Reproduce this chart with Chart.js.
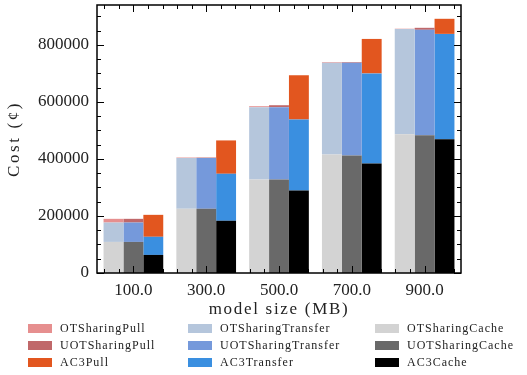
<!DOCTYPE html>
<html>
<head>
<meta charset="utf-8">
<script src="https://cdn.jsdelivr.net/npm/chart.js@4.4.0/dist/chart.umd.min.js"></script>
<style>
  html, body { margin: 0; padding: 0; background: #fff; }
  #wrap { position: relative; width: 527px; height: 375px; overflow: hidden; }
  #legend { position: absolute; left: 0; top: 0; width: 527px; height: 375px; pointer-events: none; }
  .item { position: absolute; font-family: 'Liberation Serif', serif; font-size: 12px; letter-spacing: 1px; line-height: 14px; color: #222; white-space: nowrap; }
  .box { position: absolute; width: 24px; height: 9px; }
</style>
</head>
<body>
<div id="wrap">
  <canvas id="costChart" width="527" height="375"></canvas>
  <div id="legend"></div>
</div>
<script>
const modelSizes = ['100.0', '300.0', '500.0', '700.0', '900.0'];

// segment values (cache at bottom, then transfer, then pull)
const otCache = [109000, 225500, 327700, 415800, 486300];
const otTransfer = [68000, 177500, 253800, 321800, 369700];
const otPull = [13000, 2000, 3500, 2400, 1000];

const uotCache = [109000, 225500, 327700, 412300, 482800];
const uotTransfer = [68000, 177500, 253800, 325300, 370200];
const uotPull = [13000, 2000, 7000, 2400, 7000];

const ac3Cache = [63400, 183000, 289000, 384000, 468700];
const ac3Transfer = [63600, 165000, 249000, 316000, 370000];
const ac3Pull = [77000, 117000, 156000, 121000, 52900];

const yTicks = [0, 200000, 400000, 600000, 800000];

const serif = "'Liberation Serif', serif";

function ds(label, data, color, stack) {
  return { label: label, data: data, backgroundColor: color, stack: stack, borderWidth: 0 };
}

const datasets = [
  ds('OTSharingCache', otCache, '#d3d3d3', 'OT'),
  ds('OTSharingTransfer', otTransfer, '#b5c6dc', 'OT'),
  ds('OTSharingPull', otPull, '#e68f8f', 'OT'),
  ds('UOTSharingCache', uotCache, '#696969', 'UOT'),
  ds('UOTSharingTransfer', uotTransfer, '#7599db', 'UOT'),
  ds('UOTSharingPull', uotPull, '#c0686a', 'UOT'),
  ds('AC3Cache', ac3Cache, '#000000', 'AC3'),
  ds('AC3Transfer', ac3Transfer, '#3a8fe0', 'AC3'),
  ds('AC3Pull', ac3Pull, '#e2561f', 'AC3'),
];

// inward ticks on all four sides plus the frame
const frameTicks = {
  id: 'frameTicks',
  afterDatasetsDraw(chart) {
    const { ctx, chartArea: a, scales: { x, y } } = chart;
    ctx.save();
    ctx.strokeStyle = '#000';
    ctx.lineWidth = 1;
    ctx.beginPath();
    for (let v = 0; v <= y.max; v += 50000) {
      const py = Math.round(y.getPixelForValue(v)) + 0.5;
      const len = v % 200000 === 0 ? 7 : 4;
      ctx.moveTo(a.left, py); ctx.lineTo(a.left + len, py);
      ctx.moveTo(a.right, py); ctx.lineTo(a.right - len, py);
    }
    for (let k = -3; k <= 23; k++) {
      const px = Math.round(x.getPixelForValue(k / 5)) + 0.5;
      if (px <= a.left + 1 || px >= a.right - 1) continue;
      const len = k % 5 === 0 ? 7 : 4;
      ctx.moveTo(px, a.bottom); ctx.lineTo(px, a.bottom - len);
      ctx.moveTo(px, a.top); ctx.lineTo(px, a.top + len);
    }
    ctx.stroke();
    ctx.lineWidth = 1.5;
    ctx.strokeRect(a.left, a.top, a.right - a.left, a.bottom - a.top);
    ctx.restore();
  }
};

const costChart = new Chart(document.getElementById('costChart').getContext('2d'), {
  type: 'bar',
  data: { labels: modelSizes, datasets: datasets },
  options: {
    responsive: false,
    animation: false,
    devicePixelRatio: 1,
    layout: { padding: { left: 0, right: 66, top: 5, bottom: 52 } },
    datasets: { bar: { barPercentage: 1, categoryPercentage: 0.82 } },
    plugins: { legend: { display: false }, tooltip: { enabled: false } },
    scales: {
      x: {
        stacked: true,
        grid: { display: false, drawTicks: false },
        border: { display: false },
        ticks: { color: '#222', font: { family: serif, size: 17 }, padding: 7, maxRotation: 0 },
        title: { display: true, text: 'model size (MB)', color: '#222', font: { family: serif, size: 17 }, padding: { top: 0, bottom: 3 } },
        afterFit: (s) => { s.height = 50; s.paddingLeft = 0; s.paddingRight = 0; }
      },
      y: {
        stacked: true,
        min: 0,
        max: 940000,
        grid: { display: false, drawTicks: false },
        border: { display: false },
        afterBuildTicks: (s) => { s.ticks = yTicks.map((v) => ({ value: v })); },
        ticks: { color: '#222', font: { family: serif, size: 17 }, padding: 8, callback: (v) => String(v) },
        title: { display: true, text: 'Cost (¢)', color: '#222', font: { family: serif, size: 17 }, padding: { top: 4, bottom: 0 } },
        afterFit: (s) => { s.width = 97; s.paddingTop = 0; s.paddingBottom = 0; }
      }
    }
  },
  plugins: [frameTicks]
});

// wider title lettering, closer to the original serif
const titleSpacing = { x: '1.7px', y: '2.6px' };
Object.keys(titleSpacing).forEach((id) => {
  const sc = costChart.scales[id];
  const orig = sc.drawTitle;
  sc.drawTitle = function () {
    this.ctx.save();
    this.ctx.letterSpacing = titleSpacing[id];
    orig.apply(this, arguments);
    this.ctx.restore();
  };
});
costChart.draw();

// legend in three columns: pulls, transfers, caches
const legendCols = [28, 188, 375];
const legendRows = [328, 345, 362];
const legendEl = document.getElementById('legend');
costChart.data.datasets.forEach((d, i) => {
  const col = 2 - (i % 3);
  const row = Math.floor(i / 3);
  const box = document.createElement('div');
  box.className = 'box';
  box.style.background = d.backgroundColor;
  box.style.left = legendCols[col] + 'px';
  box.style.top = (legendRows[row] - 4.5) + 'px';
  const txt = document.createElement('div');
  txt.className = 'item';
  txt.textContent = d.label;
  txt.style.left = (legendCols[col] + 32) + 'px';
  txt.style.top = (legendRows[row] - 7) + 'px';
  legendEl.appendChild(box);
  legendEl.appendChild(txt);
});
</script>
</body>
</html>
